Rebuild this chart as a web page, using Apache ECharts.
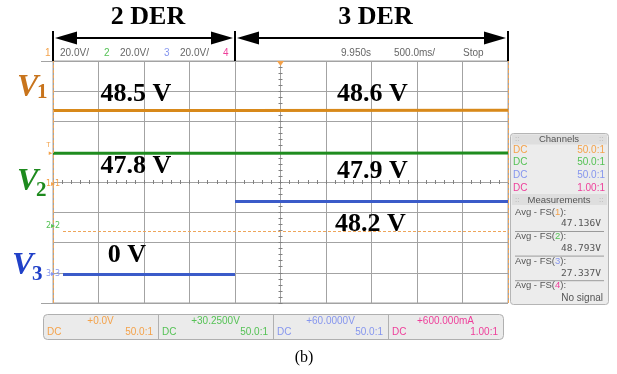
<!DOCTYPE html>
<html>
<head>
<meta charset="utf-8">
<title>DC bus voltages: 2 DER to 3 DER</title>
<script src="https://cdn.jsdelivr.net/npm/echarts@6/dist/echarts.min.js"></script>
<style>
  html, body { margin: 0; padding: 0; background: #fff; }
  #chart { width: 617px; height: 374px; }
</style>
</head>
<body>
<div id="chart"></div>
<script>
// ---------------- data ----------------
const phaseBounds = [0, 2, 5];          // s: screen start, third converter joins, screen end
const phaseNames = ['2 DER', '3 DER'];
const v1Levels = [48.5, 48.6];          // V
const v2Levels = [47.8, 47.9];          // V
const v3Levels = [0, 48.2];             // V
const v3FirstSample = 0.11;             // s, V3 trace starts right of its channel marker
const ch1RefLevel = -31.2;              // V (channel 1 scale), dashed reference line
const channelNumbers = ['1', '2', '3', '4'];
const channelScales = ['20.0V/', '20.0V/', '20.0V/'];
const timebaseTexts = ['9.950s', '500.0ms/', 'Stop'];
const probeCoupling = ['DC', 'DC', 'DC', 'DC'];
const probeRatios = ['50.0:1', '50.0:1', '50.0:1', '1.00:1'];
const channelOffsets = ['+0.0V', '+30.2500V', '+60.0000V', '+600.000mA'];
const measureName = 'Avg - FS';
const measureValues = ['47.136V', '48.793V', '27.337V', 'No signal'];
const caption = '(b)';

// ---------------- scope geometry / styling ----------------
const W = 617, H = 374;
const GRID = { left: 53, right: 109, top: 61, bottom: 71 };
const VOLTS_PER_DIV = 20, DIVS_Y = 8;
const chAxisMin = [-78.8, -51.2, -18.9];       // volts at screen bottom, per channel
const traceColors = ['#d8891a', '#1f8c1f', '#3b5bc9'];
const nameColors = ['#c8741c', '#1e8a1e', '#2141c8'];
const uiColors = ['#f4a24a', '#55c255', '#8696ee', '#ee3f9a'];
const gridGrey = '#a3a3a3';
const serif = "'Liberation Serif', 'Times New Roman', serif";
const sans = "'Liberation Sans', Arial, sans-serif";

// flat level per phase; optional gap where the trace jumps
function levelTrace(levels, firstT, gap) {
  const pts = [];
  levels.forEach((v, i) => {
    const t0 = (i === 0 && firstT != null) ? firstT : phaseBounds[i];
    if (i > 0 && gap) pts.push([phaseBounds[i], '-']);
    pts.push([t0, v], [phaseBounds[i + 1], v]);
  });
  return pts;
}

// value labels sit on the middle of each phase
function levelLabels(levels, offsets) {
  return levels.map((v, i) => ({
    coord: [(phaseBounds[i] + phaseBounds[i + 1]) / 2, v],
    value: v,
    label: { offset: offsets[i] }
  }));
}

function groundMarker(ch) {
  return {
    coord: [phaseBounds[0], 0],
    value: 0,
    label: {
      formatter: channelNumbers[ch] + '\u25B8' + channelNumbers[ch],
      color: uiColors[ch], fontSize: 8, fontFamily: "'DejaVu Sans', sans-serif",
      fontWeight: 'normal', offset: [0, 0]
    }
  };
}

const labelStyle = {
  show: true, position: 'inside', color: '#000',
  fontFamily: serif, fontWeight: 'bold', fontSize: 26,
  textBorderWidth: 0, textBorderColor: 'transparent',
  formatter: p => p.value + ' V'
};

function traceSeries(ch, levels, firstT, gap, offsets) {
  return {
    name: 'V' + (ch + 1),
    type: 'line',
    xAxisIndex: 0,
    yAxisIndex: ch + 1,
    data: levelTrace(levels, firstT, gap),
    symbol: 'none',
    connectNulls: false,
    lineStyle: { color: traceColors[ch], width: 3 },
    itemStyle: { color: traceColors[ch] },
    z: 3,
    markPoint: {
      symbol: 'rect', symbolSize: 1, silent: true,
      itemStyle: { color: 'rgba(0,0,0,0)' },
      label: labelStyle,
      data: levelLabels(levels, offsets).concat([groundMarker(ch)])
    }
  };
}

const series = [
  traceSeries(0, v1Levels, null, false, [[-8, -16], [1, -16]]),
  traceSeries(1, v2Levels, null, false, [[-8, 13], [1, 18]]),
  traceSeries(2, v3Levels, v3FirstSample, true, [[-17, -19], [-1, 23]])
];

// channel-1 reference level and the two time cursors at the screen edges
series[0].markLine = {
  silent: true, symbol: ['none', 'none'],
  label: { show: false },
  lineStyle: { color: '#eea55a', width: 1, type: [3, 2] },
  data: [
    [{ coord: [v3FirstSample, ch1RefLevel] }, { coord: [phaseBounds[2], ch1RefLevel] }],
    { xAxis: phaseBounds[0] },
    { xAxis: phaseBounds[2] }
  ]
};

const hiddenAxis = (min, max) => ({
  type: 'value', min, max, show: false,
  axisLine: { onZero: false }, splitLine: { show: false }
});

const plotH = H - GRID.top - GRID.bottom;
const plotW = W - GRID.left - GRID.right;

const option = {
  animation: false,
  backgroundColor: '#fff',
  grid: Object.assign({}, GRID, { show: true, borderColor: gridGrey, borderWidth: 1, containLabel: false }),
  xAxis: [
    {
      type: 'value', min: phaseBounds[0], max: phaseBounds[2], interval: 0.5,
      axisLine: { show: false, onZero: false }, axisTick: { show: false }, axisLabel: { show: false },
      splitLine: { show: true, lineStyle: { color: gridGrey, width: 1 } }
    },
    {
      // minor ticks across the horizontal centre line
      type: 'value', min: phaseBounds[0], max: phaseBounds[2], interval: 0.1,
      position: 'bottom', offset: -(plotH / 2 - 2),
      axisLine: { show: false, onZero: false },
      axisTick: { show: true, inside: true, length: 4, lineStyle: { color: '#808080', width: 1 } },
      axisLabel: { show: false }, splitLine: { show: false }
    }
  ],
  yAxis: [
    {
      type: 'value', min: 0, max: DIVS_Y, interval: 1,
      axisLine: { show: false, onZero: false }, axisTick: { show: false }, axisLabel: { show: false },
      splitLine: { show: true, lineStyle: { color: gridGrey, width: 1 } }
    },
    hiddenAxis(chAxisMin[0], chAxisMin[0] + VOLTS_PER_DIV * DIVS_Y),
    hiddenAxis(chAxisMin[1], chAxisMin[1] + VOLTS_PER_DIV * DIVS_Y),
    hiddenAxis(chAxisMin[2], chAxisMin[2] + VOLTS_PER_DIV * DIVS_Y),
    {
      // minor ticks across the vertical centre line
      type: 'value', min: 0, max: DIVS_Y, interval: 0.2,
      position: 'left', offset: -(plotW / 2 - 2),
      axisLine: { show: false, onZero: false },
      axisTick: { show: true, inside: true, length: 4, lineStyle: { color: '#808080', width: 1 } },
      axisLabel: { show: false }, splitLine: { show: false }
    }
  ],
  series
};

const chart = echarts.init(document.getElementById('chart'), null, { renderer: 'canvas', width: W, height: H });
chart.setOption(option);

// ---------------- annotations around the plot ----------------
const X = t => chart.convertToPixel({ xAxisIndex: 0 }, t);
const plotTop = GRID.top, plotBottom = H - GRID.bottom;
const g = [];

const txt = (text, x, y, o) => g.push({
  type: 'text', x, y, z: 20, silent: true,
  style: Object.assign({ text, fill: '#666', fontSize: 10, fontFamily: sans, align: 'left', verticalAlign: 'middle' }, o || {})
});
const line = (x1, y1, x2, y2, stroke, lw) => g.push({
  type: 'line', z: 20, silent: true, shape: { x1, y1, x2, y2 }, style: { stroke, lineWidth: lw || 1 }
});

// phase brackets: vertical bars and double-headed arrows
const arrowY = 38;
const bx = phaseBounds.map(X);
bx.forEach(x => line(x, 31, x, plotTop, '#000', 2));
for (let i = 0; i < phaseNames.length; i++) {
  const a = bx[i] + 2, b = bx[i + 1] - 2;
  line(a + 18, arrowY, b - 18, arrowY, '#000', 2);
  g.push({ type: 'polygon', z: 20, silent: true, shape: { points: [[a, arrowY], [a + 22, arrowY - 6.5], [a + 22, arrowY + 6.5]] }, style: { fill: '#000' } });
  g.push({ type: 'polygon', z: 20, silent: true, shape: { points: [[b, arrowY], [b - 22, arrowY - 6.5], [b - 22, arrowY + 6.5]] }, style: { fill: '#000' } });
  txt(phaseNames[i], (bx[i] + bx[i + 1]) / 2 + 4, 17, { fill: '#000', fontFamily: serif, fontWeight: 'bold', fontSize: 26, align: 'center' });
}

// border extensions to the left of the plot
line(41, plotTop + 0.5, GRID.left, plotTop + 0.5, gridGrey, 1);
line(41, plotBottom + 0.5, GRID.left, plotBottom + 0.5, gridGrey, 1);

// scope header row
const hy = 53.5;
txt(channelNumbers[0], 45, hy, { fill: uiColors[0] });
txt(channelScales[0], 60, hy);
txt(channelNumbers[1], 104, hy, { fill: uiColors[1] });
txt(channelScales[1], 120, hy);
txt(channelNumbers[2], 164, hy, { fill: uiColors[2] });
txt(channelScales[2], 180, hy);
txt(channelNumbers[3], 223, hy, { fill: uiColors[3] });
txt(timebaseTexts[0], 341, hy);
txt(timebaseTexts[1], 394, hy);
txt(timebaseTexts[2], 463, hy);

// trigger position marker and trigger level marker
const cx = X((phaseBounds[0] + phaseBounds[2]) / 2);
g.push({ type: 'polygon', z: 20, silent: true, shape: { points: [[cx - 3.5, plotTop], [cx + 3.5, plotTop], [cx, plotTop + 5]] }, style: { fill: uiColors[0] } });
txt('T', 48.5, 145.5, { fill: uiColors[0], fontSize: 7, align: 'center' });
txt('\u25B8', 50.5, 153, { fill: uiColors[0], fontSize: 7, align: 'center', fontFamily: "'DejaVu Sans', sans-serif" });

// channel names on the left
const names = [
  { v: [17, 87.5], s: [37, 92.5] },
  { v: [17, 181.5], s: [36, 190.5] },
  { v: [12, 266], s: [32, 275] }
];
names.forEach((p, i) => {
  txt('V', p.v[0], p.v[1], { fill: nameColors[i], fontFamily: serif, fontWeight: 'bold', fontStyle: 'italic', fontSize: 32 });
  txt(String(i + 1), p.s[0], p.s[1], { fill: nameColors[i], fontFamily: serif, fontWeight: 'bold', fontSize: 21 });
});

// side panel: channels and measurements
const px0 = 510, py0 = 133, pw = 98, ph = 171;
g.push({ type: 'rect', z: 15, silent: true, shape: { x: px0 + 0.5, y: py0 + 0.5, width: pw, height: ph, r: 3 }, style: { fill: '#ececec', stroke: '#b5b5b5', lineWidth: 1 } });
g.push({ type: 'rect', z: 16, silent: true, shape: { x: px0 + 2, y: py0 + 1.5, width: pw - 3, height: 10 }, style: { fill: '#dedede' } });
g.push({ type: 'rect', z: 16, silent: true, shape: { x: px0 + 2, y: 194, width: pw - 3, height: 11 }, style: { fill: '#dedede' } });
txt('Channels', px0 + pw / 2, 139, { fill: '#555', fontSize: 9.5, align: 'center' });
txt('Measurements', px0 + pw / 2, 200, { fill: '#555', fontSize: 9.5, align: 'center' });
[139, 200].forEach(y => {
  txt('::', px0 + 5, y, { fill: '#b0b0b0', fontSize: 8 });
  txt('::', px0 + pw - 9, y, { fill: '#b0b0b0', fontSize: 8 });
});
probeCoupling.forEach((c, i) => {
  const y = 150 + i * 12.6;
  txt(c, px0 + 3, y, { fill: uiColors[i] });
  txt(probeRatios[i], px0 + 95, y, { fill: uiColors[i], align: 'right' });
});
measureValues.forEach((v, i) => {
  const y = 212 + i * 24.6;
  g.push({
    type: 'text', x: px0 + 5, y, z: 20, silent: true,
    style: {
      text: measureName + '({c|' + channelNumbers[i] + '}):',
      fill: '#555', fontSize: 9.5, fontFamily: sans, align: 'left', verticalAlign: 'middle',
      rich: { c: { fill: uiColors[i], fontSize: 9.5, fontFamily: sans } }
    }
  });
  const isNum = /\d/.test(v);
  txt(v, px0 + (isNum ? 91 : 93), y + 12, {
    fill: '#555', align: 'right',
    fontFamily: isNum ? "'DejaVu Sans Mono', monospace" : sans, fontSize: isNum ? 9.5 : 10
  });
  if (i < measureValues.length - 1) line(px0 + 5, y + 19.5, px0 + 94, y + 19.5, '#9a9a9a', 1);
});

// offset / probe strip under the screen
const sx0 = 43, sw = 115, sy0 = 314, sh = 25;
g.push({ type: 'rect', z: 15, silent: true, shape: { x: sx0 + 0.5, y: sy0 + 0.5, width: sw * 4, height: sh, r: 4 }, style: { fill: '#ebebeb', stroke: '#b0b0b0', lineWidth: 1 } });
channelOffsets.forEach((o, i) => {
  const l = sx0 + i * sw, r = l + sw;
  if (i > 0) line(l + 0.5, sy0 + 1, l + 0.5, sy0 + sh, '#b0b0b0', 1);
  txt(o, (l + r) / 2, 321.5, { fill: uiColors[i], align: 'center' });
  txt(probeCoupling[i], l + 4, 332.5, { fill: uiColors[i] });
  txt(probeRatios[i], r - 5, 332.5, { fill: uiColors[i], align: 'right' });
});

// caption
txt(caption, 304, 358, { fill: '#000', fontFamily: serif, fontSize: 16, align: 'center' });

chart.setOption({ graphic: { elements: g } });
</script>
</body>
</html>
